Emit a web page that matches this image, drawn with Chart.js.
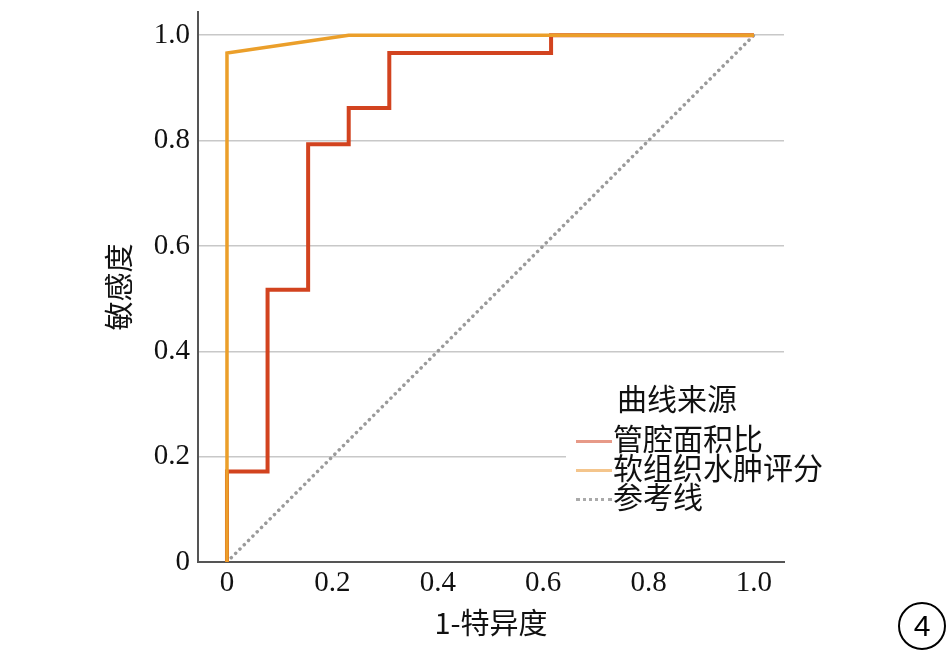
<!DOCTYPE html>
<html>
<head>
<meta charset="utf-8">
<script src="https://cdn.jsdelivr.net/npm/chart.js@4.4.1/dist/chart.umd.min.js"></script>
<style>
  body { margin: 0; background: #fff; }
  #wrap { position: relative; width: 946px; height: 650px; }
  #legend {
    position: absolute; left: 566px; top: 374px; width: 280px; height: 138px;
    background: #fff; font-family: "Noto Sans CJK SC", sans-serif; font-size: 30px; color: #111;
  }
  #legend .title { position: absolute; left: 51px; top: 3px; line-height: 40px; }
  #legend .row { position: absolute; left: 10px; height: 30px; line-height: 30px; white-space: nowrap; }
  #legend .swatch { display: inline-block; width: 36px; vertical-align: middle; margin-right: 1px; }
  #mark {
    position: absolute; left: 898px; top: 602px; width: 44px; height: 44px;
    border: 2px solid #000; border-radius: 50%; text-align: center;
    font-family: "Liberation Sans", sans-serif; font-size: 30px; line-height: 44px;
  }
</style>
</head>
<body>
<div id="wrap">
  <canvas id="roc"></canvas>
  <div id="legend"></div>
  <div id="mark">4</div>
</div>
<script>
// ROC corner points
const lumenX = [0, 0, 0.077, 0.077, 0.154, 0.154, 0.231, 0.231, 0.308, 0.308, 0.615, 0.615, 1.0];
const lumenY = [0, 0.172, 0.172, 0.517, 0.517, 0.793, 0.793, 0.862, 0.862, 0.966, 0.966, 1.0, 1.0];
const edemaX = [0, 0, 0.231, 1.0];
const edemaY = [0, 0.966, 1.0, 1.0];
const refX = [0, 1];
const refY = [0, 1];

const seriesNames = ['管腔面积比', '软组织水肿评分', '参考线'];
const legendTitle = '曲线来源';
const xTicks = [0, 0.2, 0.4, 0.6, 0.8, 1.0];
const yTicks = [0, 0.2, 0.4, 0.6, 0.8, 1.0];

const toPoints = (xs, ys) => xs.map((x, i) => ({x: x, y: ys[i]}));
const tickText = v => v === 0 ? '0' : v.toFixed(1);

const ctx = document.getElementById('roc').getContext('2d');
const chart = new Chart(ctx, {
    type: 'line',
    data: {
        datasets: [{
            label: seriesNames[0],
            data: toPoints(lumenX, lumenY),
            borderColor: '#d2431f',
            borderWidth: 4,
            order: 2,
        }, {
            label: seriesNames[1],
            data: toPoints(edemaX, edemaY),
            borderColor: '#eb9f2a',
            borderWidth: 3.5,
            order: 1,
        }, {
            label: seriesNames[2],
            data: toPoints(refX, refY),
            borderColor: '#9a9a9a',
            borderWidth: 3.5,
            borderDash: [0.1, 6],
            borderCapStyle: 'round',
            order: 3,
        }]
    },
    options: {
        responsive: true,
        maintainAspectRatio: false,
        animation: false,
        elements: {
            point: { radius: 0 },
            line: { tension: 0, fill: false, borderJoinStyle: 'miter' }
        },
        layout: { padding: { left: 102, right: 162, top: 12, bottom: 10 } },
        plugins: {
            legend: { display: false },
            tooltip: { enabled: false }
        },
        scales: {
            x: {
                type: 'linear',
                min: -0.055,
                max: 1.057,
                afterBuildTicks: s => { s.ticks = xTicks.map(v => ({value: v})); },
                afterFit: s => { s.height = 78; s.paddingLeft = 0; s.paddingRight = 0; },
                ticks: {
                    callback: tickText,
                    color: '#111',
                    padding: -4,
                    font: { family: 'Liberation Serif', size: 29 }
                },
                grid: { display: false },
                border: { color: '#555', width: 2 },
                title: {
                    display: true,
                    text: '1-特异度',
                    color: '#111',
                    padding: 0,
                    font: { family: '"Noto Sans CJK SC"', size: 29 }
                }
            },
            y: {
                type: 'linear',
                min: 0,
                max: 1.044,
                afterBuildTicks: s => { s.ticks = yTicks.map(v => ({value: v})); },
                afterFit: s => { s.width = 96; s.paddingTop = 0; s.paddingBottom = 0; },
                ticks: {
                    callback: tickText,
                    color: '#111',
                    padding: 8,
                    font: { family: 'Liberation Serif', size: 29 }
                },
                grid: { color: '#c8c8c8', lineWidth: 1.5, drawTicks: false },
                border: { color: '#555', width: 2 },
                title: {
                    display: true,
                    text: '敏感度',
                    color: '#111',
                    padding: 0,
                    font: { family: '"Noto Sans CJK SC"', size: 29 }
                }
            }
        }
    }
});

// legend sitting inside the plot, as in the original figure
const legendColors = ['#e79a88', '#f4c58c', '#aaaaaa'];
const legendBox = document.getElementById('legend');
let html = '<div class="title">' + legendTitle + '</div>';
seriesNames.forEach((name, i) => {
    const style = i === 2 ? 'border-top: 3px dotted ' + legendColors[i] : 'border-top: 3px solid ' + legendColors[i];
    html += '<div class="row" style="top:' + (48 + i * 29) + 'px"><span class="swatch" style="' + style + '"></span>' + name + '</div>';
});
legendBox.innerHTML = html;
</script>
</body>
</html>
